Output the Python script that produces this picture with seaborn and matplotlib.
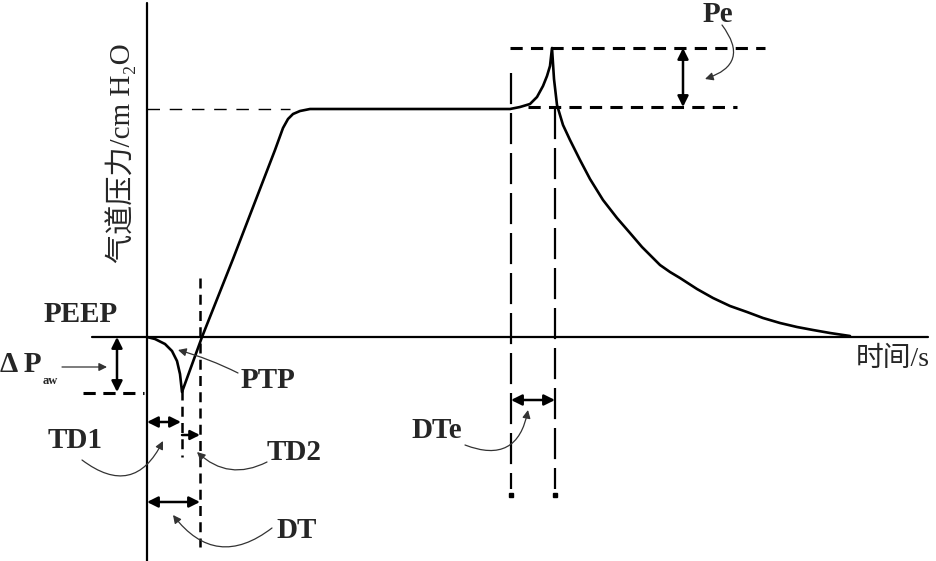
import matplotlib
matplotlib.use("Agg")
import matplotlib.pyplot as plt
import seaborn as sns
import pandas as pd

# waveform (time offset, pressure above PEEP; same arbitrary units)
t_wave = [0, 8, 18, 25, 30, 33, 35, 55, 86, 128, 136, 141, 146, 153, 163,
          363, 373, 383, 390, 396, 400, 403, 405,
          407, 410, 416, 423, 433, 443, 456, 470, 483, 495, 505, 513, 523, 533,
          550, 566, 583, 600, 616, 633, 650, 666, 683, 703]
p_wave = [0, -2, -7, -14, -24, -37, -55, 0, 78, 187, 209, 218, 223, 226, 228,
          228, 230, 233, 240, 251, 261, 271, 289,
          258, 232, 212, 197, 177, 158, 137, 119, 104, 90, 80, 72, 65, 59,
          48, 39, 31, 25, 19, 14, 10, 7, 4, 1]

# key times / pressures of the diagram
p_plateau = 228
p_peak = 289
p_dip = -56
t_td1 = 35
t_dt = 53
t_e0 = 364
t_e1 = 408

labels = {"peep": "PEEP", "ptp": "PTP", "td1": "TD1", "td2": "TD2",
          "dt": "DT", "dte": "DTe", "pe": "Pe"}

sns.set_theme(style="white")
plt.rcParams["font.family"] = ["Liberation Serif", "Noto Sans CJK SC", "DejaVu Sans"]

fig = plt.figure(figsize=(9.37, 5.61), dpi=100)
ax = fig.add_axes([0, 0, 1, 1])
ax.set_xlim(-147, 790)
ax.set_ylim(-224, 337)
ax.axis("off")

df = pd.DataFrame({"t": t_wave, "p": p_wave})
sns.lineplot(data=df, x="t", y="p", sort=False, estimator=None,
             color="black", lw=1.9, ax=ax)

# axes of the diagram
ax.plot([0, 0], [-224, 334], color="black", lw=1.6)
ax.plot([-55, 781], [0, 0], color="black", lw=1.6)

# plateau guide
ax.plot([0, 143], [p_plateau, p_plateau], color="black", lw=1.0, ls=(0, (9, 7)))

# dashed / dash-dot guides
ax.plot([-64, -3], [p_dip, p_dip], color="black", lw=2.2, ls=(0, (4, 2.5)))
ax.plot([t_td1, t_td1], [-53, -120], color="black", lw=1.8, ls=(0, (4, 2.5)))
ax.plot([t_dt, t_dt], [59, -210], color="black", lw=1.8, ls=(0, (4, 2.5)))
ax.plot([t_e0, t_e0], [264, -152], color="black", lw=1.6, ls=(0, (14, 4)))
ax.plot([t_e1, t_e1], [229, -152], color="black", lw=1.6, ls=(0, (14, 4)))
ax.plot([t_e0, t_e1], [-158, -158], color="black", lw=0, marker="s", ms=2.5)
ax.plot([t_e0 - 1, 618], [p_peak, p_peak], color="black", lw=2.2, ls=(0, (4, 2.7)))
ax.plot([381, 590], [230, 230], color="black", lw=2.2, ls=(0, (4, 2.7)))

# measurement arrows
dbl = dict(arrowstyle="<|-|>", mutation_scale=16, lw=1.8, color="black",
           shrinkA=0, shrinkB=0)
one = dict(arrowstyle="-|>", mutation_scale=14, lw=1.8, color="black",
           shrinkA=0, shrinkB=0)
ax.annotate("", xy=(-30, p_dip + 1), xytext=(-30, 0), arrowprops=dbl)
ax.annotate("", xy=(0, -85), xytext=(t_td1 - 1, -85), arrowprops=dbl)
ax.annotate("", xy=(t_dt, -98), xytext=(t_td1, -98), arrowprops=one)
ax.annotate("", xy=(0, -165), xytext=(t_dt, -165), arrowprops=dbl)
ax.annotate("", xy=(t_e0, -63), xytext=(t_e1, -63), arrowprops=dbl)
ax.annotate("", xy=(536, p_peak), xytext=(536, 230), arrowprops=dbl)

# pointer arrows (thin, curved)
thin = dict(arrowstyle="-|>", mutation_scale=12, lw=0.9, color="#333333",
            shrinkA=0, shrinkB=0)
ax.annotate("", xy=(-40, -30), xytext=(-85, -30), arrowprops=thin)
ax.annotate("", xy=(31, -13), xytext=(91, -36),
            arrowprops=dict(thin, connectionstyle="arc3,rad=0.05"))
ax.annotate("", xy=(16, -104), xytext=(-65, -123),
            arrowprops=dict(thin, connectionstyle="arc3,rad=0.6"))
ax.annotate("", xy=(50, -115), xytext=(120, -125),
            arrowprops=dict(thin, connectionstyle="arc3,rad=-0.35"))
ax.annotate("", xy=(26, -178), xytext=(125, -191),
            arrowprops=dict(thin, connectionstyle="arc3,rad=-0.5"))
ax.annotate("", xy=(381, -73), xytext=(318, -108),
            arrowprops=dict(thin, connectionstyle="arc3,rad=0.6"))
ax.annotate("", xy=(558, 258), xytext=(575, 312),
            arrowprops=dict(thin, connectionstyle="arc3,rad=-0.7"))

# text labels
fs = 21
bold = dict(fontsize=fs, ha="center", va="center", fontweight="bold")
ax.text(-66, 23, labels["peep"], **bold)
ax.text(-147, -27, "Δ P", fontsize=fs, ha="left", va="center", fontweight="bold")
ax.text(-104, -44, "aw", fontsize=9, ha="left", va="center", fontweight="bold")
ax.text(121, -43, labels["ptp"], **bold)
ax.text(-72, -104, labels["td1"], **bold)
ax.text(147, -116, labels["td2"], **bold)
ax.text(150, -193, labels["dt"], **bold)
ax.text(290, -94, labels["dte"], **bold)
ax.text(571, 323, labels["pe"], **bold)
ax.text(746, -22, "时间/s", fontsize=20, ha="center", va="center")
ax.text(-26, 184, "气道压力/cm H₂O", fontsize=21, ha="center", va="center",
        rotation=90)

fig.savefig("out.png", dpi=100)
